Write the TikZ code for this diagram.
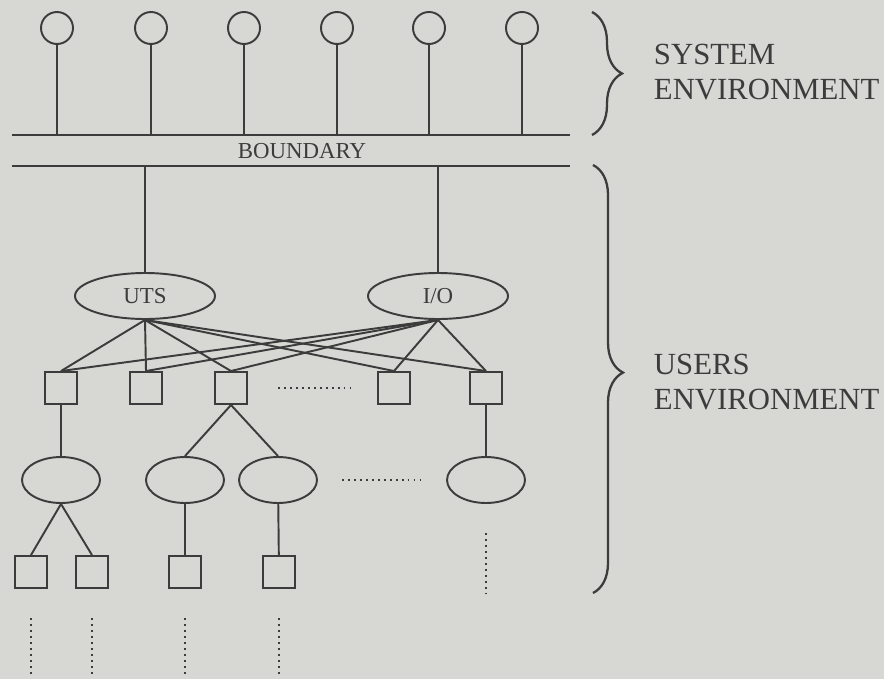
\documentclass[tikz,border=0pt]{standalone}
\usepackage{fontspec}
\setmainfont{Liberation Serif}
\usetikzlibrary{shapes.geometric,decorations.pathreplacing}
\definecolor{paper}{RGB}{215,215,211}
\definecolor{ink}{RGB}{60,60,60}
\begin{document}
\begin{tikzpicture}[x=0.02cm,y=-0.02cm,color=ink,line width=1.1pt,
  every node/.style={font=\fontsize{13}{15}\selectfont},
  stn/.style={draw,circle,minimum size=0.64cm,inner sep=0pt},
  box/.style={draw,rectangle,minimum size=0.64cm,inner sep=0pt},
  blob/.style={draw,ellipse,minimum width=1.56cm,minimum height=0.92cm,inner sep=0pt},
  bigblob/.style={draw,ellipse,minimum width=2.8cm,minimum height=0.92cm,inner sep=0pt},
  dots/.style={line width=1.2pt,dash pattern=on 1pt off 2.4pt},
  side/.style={align=left,anchor=west,inner sep=0pt,font=\fontsize{17.5}{20}\selectfont},
  curly/.style={decorate,decoration={brace,amplitude=0.6cm},line width=1.3pt}]
  \fill[paper] (0,0) rectangle (884,679);
  \coordinate (topl) at (12,135);
  \coordinate (topr) at (570,135);
  \coordinate (botl) at (12,166);
  \coordinate (botr) at (570,166);
  \draw (topl) -- (topr);
  \draw (botl) -- (botr);
  \node at (302,151) (bnd) {BOUNDARY};
  \node[stn] (s1) at (57,28) {};
  \node[stn] (s2) at (151,28) {};
  \node[stn] (s3) at (244,28) {};
  \node[stn] (s4) at (337,28) {};
  \node[stn] (s5) at (429,28) {};
  \node[stn] (s6) at (522,28) {};
  \draw (s1) -- (s1 |- topl);
  \draw (s2) -- (s2 |- topl);
  \draw (s3) -- (s3 |- topl);
  \draw (s4) -- (s4 |- topl);
  \draw (s5) -- (s5 |- topl);
  \draw (s6) -- (s6 |- topl);
  \node[bigblob] (uts) at (145,296) {UTS};
  \node[bigblob] (io) at (438,296) {I/O};
  \draw (uts) -- (uts |- botl);
  \draw (io) -- (io |- botl);
  \node[box] (u1) at (61,388) {};
  \node[box] (u2) at (146,388) {};
  \node[box] (u3) at (231,388) {};
  \node[box] (u4) at (394,388) {};
  \node[box] (u5) at (486,388) {};
  \draw (uts.south) -- (u1.north);
  \draw (uts.south) -- (u2.north);
  \draw (uts.south) -- (u3.north);
  \draw (uts.south) -- (u4.north);
  \draw (uts.south) -- (u5.north);
  \draw (io.south) -- (u1.north);
  \draw (io.south) -- (u2.north);
  \draw (io.south) -- (u3.north);
  \draw (io.south) -- (u4.north);
  \draw (io.south) -- (u5.north);
  \coordinate (gap1a) at (278,388);
  \coordinate (gap1b) at (355,388);
  \draw[dots] (gap1a) -- (gap1b);
  \node[blob] (e1) at (61,480) {};
  \node[blob] (e2) at (185,480) {};
  \node[blob] (e3) at (278,480) {};
  \node[blob] (e4) at (486,480) {};
  \draw (u1) -- (e1);
  \draw (u3.south) -- (e2.north);
  \draw (u3.south) -- (e3.north);
  \draw (u5) -- (e4);
  \coordinate (gap2a) at (342,480);
  \coordinate (gap2b) at (425,480);
  \draw[dots] (gap2a) -- (gap2b);
  \node[box] (l1) at (31,572) {};
  \node[box] (l2) at (92,572) {};
  \node[box] (l3) at (185,572) {};
  \node[box] (l4) at (279,572) {};
  \draw (e1.south) -- (l1.north);
  \draw (e1.south) -- (l2.north);
  \draw (e2) -- (l3);
  \draw (e3) -- (l4);
  \coordinate (tailt) at (0,618);
  \coordinate (tailb) at (0,677);
  \coordinate (e4t) at (0,533);
  \coordinate (e4b) at (0,593);
  \draw[dots] (l1 |- tailt) -- (l1 |- tailb);
  \draw[dots] (l2 |- tailt) -- (l2 |- tailb);
  \draw[dots] (l3 |- tailt) -- (l3 |- tailb);
  \draw[dots] (l4 |- tailt) -- (l4 |- tailb);
  \draw[dots] (e4 |- e4t) -- (e4 |- e4b);
  \coordinate (sysa) at (592,12);
  \coordinate (sysb) at (592,135);
  \coordinate (usra) at (593,165);
  \coordinate (usrb) at (593,593);
  \draw[curly] (sysa) -- (sysb);
  \draw[curly,decoration={aspect=0.485}] (usra) -- (usrb);
  \node[side] (sys) at (653,72) {SYSTEM\\ENVIRONMENT};
  \node[side] (usr) at (653,382) {USERS\\ENVIRONMENT};
\end{tikzpicture}
\end{document}
